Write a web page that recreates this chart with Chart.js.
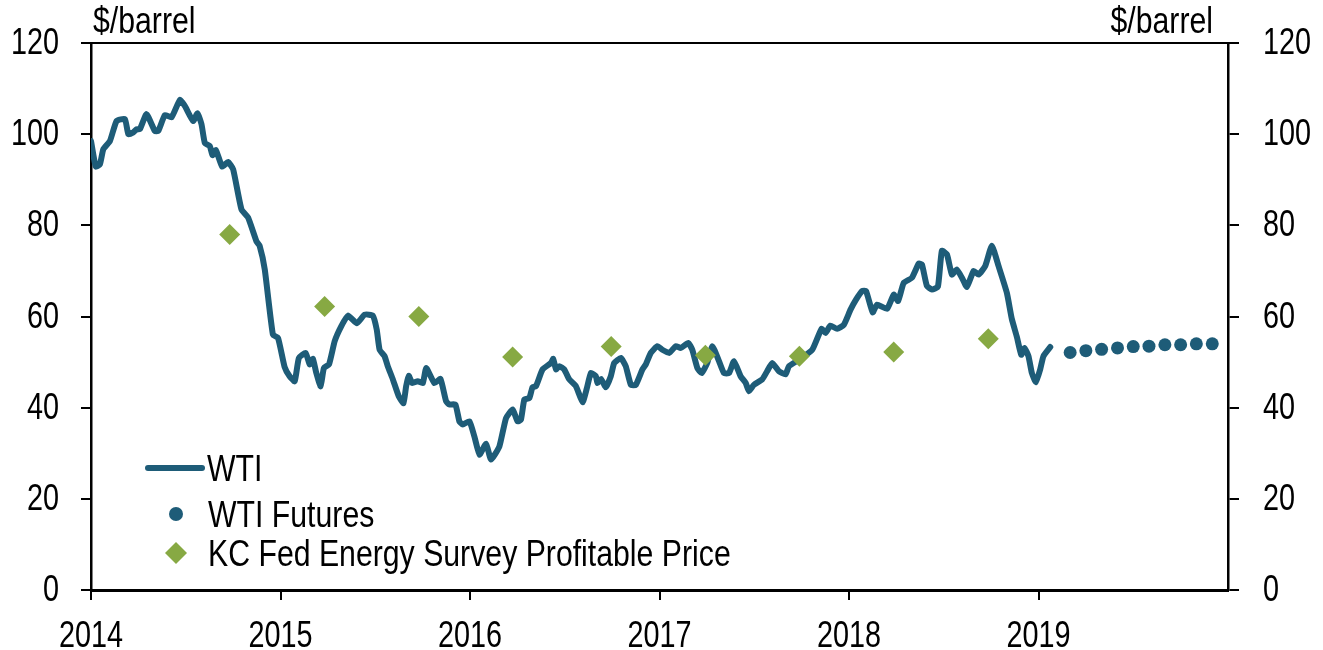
<!DOCTYPE html>
<html>
<head>
<meta charset="utf-8">
<script src="https://cdn.jsdelivr.net/npm/chart.js@4/dist/chart.umd.min.js"></script>
<style>
  html, body { margin: 0; padding: 0; background: #fff; }
  #wrap { width: 1323px; height: 650px; }
</style>
</head>
<body>
<div id="wrap"><canvas id="oil-chart" width="1323" height="650"></canvas></div>
<script>
// WTI spot price ($/barrel, decimal year)
var wtiYears = [
  2014.000, 2014.025, 2014.047, 2014.065, 2014.100, 2014.135, 2014.179, 2014.197, 2014.223, 2014.241,
  2014.258, 2014.293, 2014.337, 2014.355, 2014.390, 2014.425, 2014.469, 2014.495, 2014.539, 2014.562,
  2014.583, 2014.601, 2014.627, 2014.641, 2014.659, 2014.692, 2014.723, 2014.750, 2014.794, 2014.829,
  2014.873, 2014.890, 2014.917, 2014.960, 2014.987, 2015.022, 2015.048, 2015.075, 2015.097, 2015.133,
  2015.154, 2015.171, 2015.189, 2015.212, 2015.229, 2015.256, 2015.286, 2015.321, 2015.356, 2015.403,
  2015.444, 2015.487, 2015.508, 2015.523, 2015.549, 2015.566, 2015.593, 2015.624, 2015.649, 2015.663,
  2015.677, 2015.695, 2015.724, 2015.751, 2015.769, 2015.812, 2015.844, 2015.874, 2015.891, 2015.923,
  2015.944, 2015.962, 2015.997, 2016.023, 2016.050, 2016.085, 2016.111, 2016.155, 2016.190, 2016.225,
  2016.251, 2016.269, 2016.287, 2016.313, 2016.330, 2016.348, 2016.383, 2016.427, 2016.439, 2016.454,
  2016.471, 2016.497, 2016.524, 2016.559, 2016.594, 2016.615, 2016.638, 2016.664, 2016.673, 2016.691,
  2016.717, 2016.743, 2016.761, 2016.796, 2016.822, 2016.849, 2016.875, 2016.910, 2016.928, 2016.954,
  2016.989, 2017.015, 2017.051, 2017.086, 2017.112, 2017.152, 2017.173, 2017.200, 2017.223, 2017.252,
  2017.279, 2017.314, 2017.340, 2017.367, 2017.393, 2017.428, 2017.455, 2017.472, 2017.498, 2017.542,
  2017.568, 2017.595, 2017.630, 2017.665, 2017.683, 2017.736, 2017.806, 2017.855, 2017.876, 2017.902,
  2017.937, 2017.973, 2018.008, 2018.037, 2018.069, 2018.090, 2018.125, 2018.148, 2018.201, 2018.236,
  2018.259, 2018.289, 2018.332, 2018.368, 2018.385, 2018.411, 2018.438, 2018.469, 2018.490, 2018.517,
  2018.543, 2018.569, 2018.596, 2018.622, 2018.658, 2018.684, 2018.719, 2018.754, 2018.789, 2018.833,
  2018.859, 2018.886, 2018.909, 2018.926, 2018.947, 2018.965, 2018.986, 2019.009, 2019.026, 2019.062
];
var wtiPrices = [
  98.5, 92.9, 93.4, 96.7, 98.5, 102.9, 103.3, 100.0, 100.4, 101.1,
  101.1, 104.4, 100.7, 100.7, 104.2, 103.7, 107.5, 106.2, 102.9, 104.6,
  102.2, 98.0, 97.4, 95.4, 96.5, 92.9, 93.9, 92.3, 83.5, 81.7,
  76.5, 75.5, 70.3, 56.0, 55.3, 48.9, 46.9, 45.8, 50.9, 52.0,
  49.5, 50.7, 47.6, 44.7, 48.7, 49.5, 54.6, 57.9, 60.2, 58.5,
  60.4, 60.2, 57.1, 52.7, 51.3, 49.1, 46.2, 42.5, 41.0, 44.7,
  47.0, 45.4, 45.8, 45.4, 48.7, 45.4, 46.3, 41.4, 40.7, 40.7,
  37.0, 36.3, 37.0, 33.7, 29.7, 32.1, 28.6, 31.5, 37.7, 39.6,
  37.0, 37.4, 41.8, 42.1, 44.5, 44.7, 48.4, 49.8, 50.7, 48.4,
  49.1, 48.4, 46.2, 44.7, 41.2, 44.0, 47.6, 46.9, 45.4, 46.3,
  44.5, 46.9, 49.8, 50.9, 49.1, 45.0, 45.0, 48.4, 49.5, 52.0,
  53.5, 52.7, 52.0, 53.5, 53.1, 54.2, 52.7, 48.7, 47.6, 49.8,
  53.5, 50.2, 47.6, 47.6, 50.2, 46.9, 45.4, 43.6, 45.0, 46.2,
  48.0, 49.8, 48.0, 47.3, 49.1, 50.5, 52.7, 57.3, 56.4, 58.0,
  57.3, 58.2, 61.5, 63.7, 65.6, 65.6, 60.9, 62.6, 61.7, 64.8,
  63.4, 67.4, 68.5, 71.6, 71.4, 66.7, 65.9, 66.5, 74.4, 73.6,
  69.2, 70.3, 68.5, 66.5, 70.0, 69.2, 71.1, 75.5, 71.1, 65.2,
  59.5, 55.5, 51.6, 53.1, 51.3, 47.6, 45.6, 48.4, 51.3, 53.3
];

// WTI futures, monthly 2019
var futuresYears = [2019.167, 2019.250, 2019.333, 2019.417, 2019.500, 2019.583, 2019.667, 2019.750, 2019.833, 2019.917];
var futuresPrices = [52.1, 52.5, 52.8, 53.1, 53.4, 53.5, 53.8, 53.8, 54.0, 54.0];

// KC Fed Energy Survey profitable price, semiannual
var surveyYears = [2014.732, 2015.233, 2015.730, 2016.225, 2016.745, 2017.242, 2017.738, 2018.236, 2018.735];
var surveyPrices = [78.0, 62.2, 60.0, 51.1, 53.4, 51.5, 51.3, 52.2, 55.1];

var yearTicks = [2014, 2015, 2016, 2017, 2018, 2019];
var seriesNames = ["WTI", "WTI Futures", "KC Fed Energy Survey Profitable Price"];
var unitLabel = "$/barrel";

var blue = "#1e5c78";
var green = "#87a943";
var fontFamily = "'Liberation Sans', Arial, sans-serif";

function toPoints(xs, ys) {
    var pts = [];
    for (var i = 0; i < xs.length; i++) {
        pts.push({ x: xs[i], y: ys[i] });
    }
    return pts;
}

// Arial squeezed sideways, standing in for Arial Narrow
function narrowText(ctx, text, x, y, align, size, squeeze) {
    ctx.save();
    ctx.font = size + "px " + fontFamily;
    ctx.textBaseline = "alphabetic";
    ctx.textAlign = align;
    ctx.translate(x, y);
    ctx.scale(squeeze, 1);
    ctx.fillText(text, 0, 0);
    ctx.restore();
}

// tick labels, frame line on top, unit labels and the in-chart legend
var decorations = {
    id: "decorations",
    afterDraw: function (chart) {
        var ctx = chart.ctx;
        var area = chart.chartArea;
        var sx = chart.scales.x, sy = chart.scales.y, sy2 = chart.scales.y2;
        ctx.save();
        ctx.strokeStyle = "#000";
        ctx.lineWidth = 2;
        ctx.beginPath();
        ctx.moveTo(area.left - 10, area.top);
        ctx.lineTo(area.right + 11, area.top);
        ctx.stroke();

        ctx.fillStyle = "#000";
        sy.ticks.forEach(function (t) {
            var py = sy.getPixelForValue(t.value);
            narrowText(ctx, String(t.value), area.left - 32, py + 11, "right", 36, 0.8);
        });
        sy2.ticks.forEach(function (t) {
            var py = sy2.getPixelForValue(t.value);
            narrowText(ctx, String(t.value), area.right + 35, py + 11, "left", 36, 0.8);
        });
        sx.ticks.forEach(function (t) {
            var px = sx.getPixelForValue(t.value);
            narrowText(ctx, String(t.value), px, area.bottom + 57, "center", 36, 0.8);
        });

        narrowText(ctx, unitLabel, area.left + 2, area.top - 10, "left", 36, 0.84);
        narrowText(ctx, unitLabel, area.right - 15, area.top - 10, "right", 36, 0.84);

        // legend
        var lx = area.left + 57;
        ctx.strokeStyle = blue;
        ctx.lineWidth = 6;
        ctx.lineCap = "round";
        ctx.beginPath();
        ctx.moveTo(lx, 468);
        ctx.lineTo(lx + 54, 468);
        ctx.stroke();
        narrowText(ctx, seriesNames[0], lx + 59, 481, "left", 36, 0.84);

        ctx.fillStyle = blue;
        ctx.beginPath();
        ctx.arc(lx + 28, 514, 7, 0, Math.PI * 2);
        ctx.fill();
        ctx.fillStyle = "#000";
        narrowText(ctx, seriesNames[1], lx + 60, 527, "left", 36, 0.84);

        ctx.fillStyle = green;
        ctx.beginPath();
        ctx.moveTo(lx + 28, 542);
        ctx.lineTo(lx + 39, 553);
        ctx.lineTo(lx + 28, 564);
        ctx.lineTo(lx + 17, 553);
        ctx.closePath();
        ctx.fill();
        ctx.fillStyle = "#000";
        narrowText(ctx, seriesNames[2], lx + 60, 566, "left", 36, 0.84);
        ctx.restore();
    }
};

var hiddenTicks = { family: fontFamily, size: 30 };

new Chart(document.getElementById("oil-chart"), {
    type: "line",
    data: {
        datasets: [
            {
                label: seriesNames[2],
                data: toPoints(surveyYears, surveyPrices),
                showLine: false,
                pointStyle: "rectRot",
                pointRadius: 10.5,
                pointBackgroundColor: green,
                pointBorderWidth: 0,
                yAxisID: "y"
            },
            {
                label: seriesNames[0],
                data: toPoints(wtiYears, wtiPrices),
                borderColor: blue,
                borderWidth: 6,
                pointRadius: 0,
                tension: 0.15,
                borderJoinStyle: "round",
                borderCapStyle: "round",
                yAxisID: "y"
            },
            {
                label: seriesNames[1],
                data: toPoints(futuresYears, futuresPrices),
                showLine: false,
                pointStyle: "circle",
                pointRadius: 6.5,
                pointBackgroundColor: blue,
                pointBorderWidth: 0,
                yAxisID: "y"
            }
        ]
    },
    options: {
        responsive: false,
        animation: false,
        devicePixelRatio: 1,
        layout: { padding: { top: 43, left: 0, right: 0, bottom: 0 } },
        plugins: {
            legend: { display: false },
            tooltip: { enabled: false }
        },
        scales: {
            x: {
                type: "linear",
                min: 2014,
                max: 2020,
                afterBuildTicks: function (scale) {
                    scale.ticks = yearTicks.map(function (v) { return { value: v }; });
                },
                afterFit: function (scale) { scale.height = 60; },
                ticks: { font: hiddenTicks, color: "rgba(0,0,0,0)", maxRotation: 0, autoSkip: false },
                grid: {
                    drawOnChartArea: false,
                    drawTicks: true,
                    tickLength: 10,
                    color: "#000",
                    lineWidth: 2
                },
                border: { display: true, color: "#000", width: 3 }
            },
            y: {
                position: "left",
                min: 0,
                max: 120,
                afterFit: function (scale) { scale.width = 91; },
                ticks: { stepSize: 20, font: hiddenTicks, color: "rgba(0,0,0,0)" },
                grid: {
                    drawOnChartArea: false,
                    drawTicks: true,
                    tickLength: 10,
                    color: "#000",
                    lineWidth: 2
                },
                border: { display: true, color: "#000", width: 2.5 }
            },
            y2: {
                position: "right",
                min: 0,
                max: 120,
                afterFit: function (scale) { scale.width = 95; },
                ticks: { stepSize: 20, font: hiddenTicks, color: "rgba(0,0,0,0)" },
                grid: {
                    drawOnChartArea: false,
                    drawTicks: true,
                    tickLength: 11,
                    color: "#000",
                    lineWidth: 2
                },
                border: { display: true, color: "#000", width: 2.5 }
            }
        }
    },
    plugins: [decorations]
});
</script>
</body>
</html>
